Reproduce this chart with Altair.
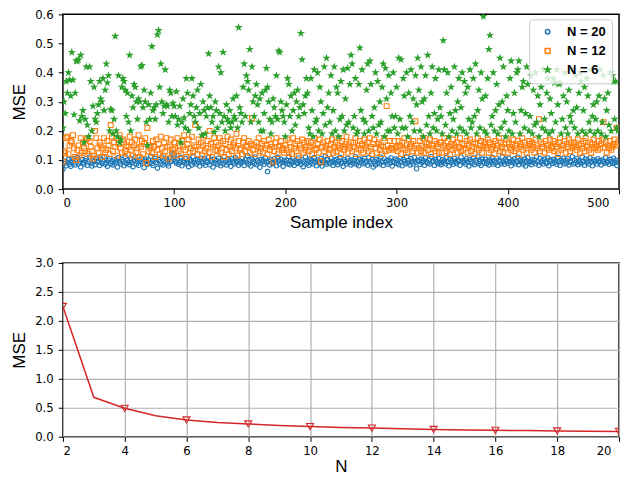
import altair as alt
import pandas as pd

# ---- top panel: per-sample MSE (values in thousandths) ----
mse_n20 = [
    68,88,95,80,92,101,85,78,96,104,90,83,99,108,87,94,76,102,91,86,
    97,105,82,93,110,88,79,100,95,84,107,92,98,81,103,89,96,112,85,91,
    78,99,106,87,94,83,101,90,97,76,108,93,86,102,95,80,111,88,99,92,
    84,104,91,77,98,109,86,95,82,100,93,107,89,74,103,96,85,99,90,113,
    88,81,97,105,92,72,101,94,86,110,83,98,91,104,87,79,106,95,100,122,
    118,96,89,103,85,92,108,80,98,91,105,87,94,77,102,96,83,111,90,99,
    86,101,93,79,107,95,88,104,82,97,91,109,84,100,94,76,103,89,98,85,
    106,92,80,99,87,112,95,83,101,90,97,78,104,93,86,108,91,99,82,96,
    89,105,94,81,100,92,115,86,98,79,103,95,88,110,84,97,91,75,102,93,
    99,85,107,92,60,96,83,101,90,88,104,94,80,109,97,86,102,91,78,98,
    93,100,87,112,84,96,90,105,81,98,92,89,107,95,85,101,77,94,110,88,
    97,82,103,91,99,86,108,93,80,100,95,88,104,79,97,90,113,85,102,92,
    87,106,94,81,99,90,102,84,96,109,88,93,78,101,95,86,105,91,98,83,
    100,89,97,111,85,94,80,103,92,99,87,106,90,96,82,108,94,88,101,76,
    95,83,102,90,98,86,110,93,81,104,92,97,85,100,89,107,79,96,91,103,
    88,99,84,106,93,80,101,95,87,112,90,98,83,104,94,86,109,92,70,99,
    96,85,103,91,98,82,107,94,89,100,86,111,93,97,81,102,95,88,105,90,
    84,101,92,97,87,109,94,80,103,91,98,85,106,93,88,100,96,82,110,95,
    91,98,86,104,93,79,102,95,89,107,84,99,92,113,87,96,81,103,94,90,
    103,88,96,83,100,92,108,86,97,90,105,81,99,94,87,111,93,85,102,96,
    89,106,93,80,98,91,104,87,95,110,84,100,92,97,86,103,79,96,108,90,
    95,84,101,92,99,87,112,94,82,105,91,98,86,103,93,89,107,80,100,96,
    88,102,91,97,85,109,94,81,100,93,106,87,98,90,104,83,96,92,111,86,
    99,90,105,84,97,92,88,110,95,82,103,91,98,86,107,94,80,101,93,97,
    86,104,92,98,83,100,95,89,108,91,97,85,102,94,88,106,90,99,81,93,
]
mse_n12 = [
    95,130,125,175,180,120,150,165,160,185,140,110,100,135,150,115,175,125,160,140,
    130,170,175,120,165,145,130,105,115,200,175,140,125,160,150,110,140,175,125,135,
    165,150,120,220,180,130,160,145,175,115,155,185,140,125,170,160,130,150,120,145,
    180,135,160,115,150,170,125,140,185,110,145,165,120,155,175,90,210,130,150,140,
    125,165,145,110,170,135,155,120,180,140,115,160,130,175,145,105,150,170,125,135,
    160,140,115,175,130,150,120,165,145,185,135,110,155,170,125,140,180,130,150,220,
    145,120,170,135,160,115,150,185,130,140,165,125,200,155,110,145,175,135,160,130,
    150,175,125,140,165,110,155,135,180,120,145,170,130,150,160,140,190,115,165,135,
    140,120,160,175,130,150,145,165,125,155,243,135,150,120,160,145,175,130,140,155,
    125,165,140,150,120,170,135,155,145,95,130,160,175,120,145,150,165,135,140,125,
    150,135,170,125,160,145,120,175,140,155,130,165,115,150,140,170,125,160,135,145,
    165,130,145,160,120,150,175,135,140,155,125,170,95,145,160,130,150,140,165,120,
    135,155,170,125,145,160,130,150,175,140,120,165,145,135,155,180,125,150,140,160,
    130,160,145,175,120,150,140,165,135,155,125,170,150,140,160,130,175,145,120,155,
    170,140,125,155,160,135,150,120,145,175,130,285,150,135,165,140,140,135,165,140,
    145,130,165,150,120,160,140,175,135,150,125,170,145,155,130,165,140,233,150,125,
    140,165,130,150,175,125,145,160,135,155,170,120,150,140,165,130,155,145,125,160,
    160,125,150,175,140,130,165,145,120,155,135,170,150,140,160,125,145,175,130,155,
    135,155,140,165,125,150,170,130,145,160,120,155,140,175,135,150,165,125,145,160,
    150,140,170,125,160,135,145,155,120,165,140,150,175,130,160,145,125,155,140,170,
    125,160,145,135,155,170,130,150,140,165,120,155,145,175,135,160,150,125,140,165,
    155,135,160,145,125,170,150,140,240,130,160,145,155,125,165,140,150,135,170,145,
    140,165,130,155,145,120,160,175,135,150,140,165,125,155,145,170,130,160,140,150,
    160,145,135,170,150,125,155,140,165,130,175,145,150,135,160,125,155,170,140,145,
    150,135,165,140,155,170,230,145,160,125,150,140,165,135,145,155,170,150,210,160,
]
mse_n6 = [
    210,300,260,370,330,400,375,320,470,375,255,330,440,440,445,235,460,250,270,160,
    240,420,220,180,420,370,200,285,350,240,230,260,290,370,310,300,380,270,340,430,
    365,390,200,275,270,190,240,525,200,180,390,160,170,350,380,370,340,250,330,230,
    460,200,320,280,360,350,300,240,310,300,420,425,280,340,300,230,150,290,240,330,
    490,270,280,240,290,530,545,350,430,300,260,285,410,290,285,230,340,330,250,295,
    285,250,335,220,240,285,160,230,310,245,210,380,330,200,260,290,380,320,250,230,
    280,340,210,260,360,185,300,270,190,250,280,465,320,280,230,250,195,300,270,210,
    420,260,400,230,470,250,200,290,240,230,270,210,230,310,250,240,320,210,555,280,
    260,230,350,430,250,390,370,340,480,230,420,300,250,320,360,290,230,310,200,330,
    200,260,340,415,350,300,240,190,230,310,280,250,390,240,475,470,300,270,250,230,
    180,290,380,360,250,320,200,270,330,220,300,340,250,280,535,445,290,260,320,380,
    330,210,190,380,270,180,410,230,240,400,200,350,300,190,260,420,220,450,280,330,
    230,390,190,270,420,200,350,330,180,240,370,250,410,200,310,220,415,230,360,460,
    430,210,250,380,190,200,360,485,270,410,240,190,230,340,430,200,440,360,250,210,
    280,400,190,370,220,300,230,350,430,180,415,310,200,390,200,330,250,400,210,250,
    350,190,450,240,445,210,380,320,210,400,180,330,250,410,230,310,200,390,290,450,
    340,200,420,300,180,310,390,220,460,250,190,330,420,210,260,380,200,240,410,280,
    250,190,510,410,220,330,400,180,260,350,200,240,420,270,190,300,380,210,280,400,
    200,370,330,190,350,240,410,210,230,380,250,430,190,270,340,210,400,310,593,200,
    320,190,380,480,528,220,250,400,200,270,360,190,290,450,210,300,420,230,180,320,
    270,200,380,440,190,260,330,230,400,410,440,190,270,350,370,210,260,420,360,200,
    250,390,190,340,220,400,230,320,180,290,350,210,410,240,200,330,380,190,310,260,
    200,380,365,230,410,290,360,365,190,240,320,400,210,300,190,340,250,230,410,270,
    210,390,280,190,330,400,370,200,270,350,190,380,320,230,200,410,250,290,190,240,
    300,200,320,410,190,230,390,310,180,270,330,220,400,200,390,370,240,370,210,200,
]
series_labels = ["N = 20", "N = 12", "N = 6"]

# ---- bottom panel: MSE versus N ----
n_values = list(range(2, 21))
mse_vs_n = [2.25, 0.68, 0.49, 0.36, 0.29, 0.245, 0.22, 0.195, 0.175, 0.16,
            0.15, 0.135, 0.125, 0.115, 0.11, 0.105, 0.10, 0.095, 0.09]

rows = []
for lab, vals in zip(series_labels, [mse_n20, mse_n12, mse_n6]):
    for i, v in enumerate(vals):
        rows.append({"idx": i, "mse": v / 1000.0, "series": lab})
top_df = pd.DataFrame(rows)
bot_df = pd.DataFrame({"N": n_values, "mse": mse_vs_n})

STAR = ("M0,-1L0.2245,-0.309L0.951,-0.309L0.363,0.118L0.588,0.809L0,0.382"
        "L-0.588,0.809L-0.363,0.118L-0.951,-0.309L-0.2245,-0.309Z")

legend = alt.Legend(
    title=None, orient="none", legendX=467, legendY=5,
    fillColor="rgba(255,255,255,0.8)", strokeColor="#cccccc", cornerRadius=3,
    padding=6, symbolOffset=6, labelFont="Liberation Sans", labelFontWeight="bold",
    labelFontSize=13, labelColor="black", symbolSize=36, symbolStrokeWidth=1.5,
    rowPadding=5, labelOffset=13,
)

top = alt.Chart(top_df).mark_point(strokeWidth=1.1, clip=True, opacity=1, filled=False).encode(
    x=alt.X("idx:Q", scale=alt.Scale(domain=[0, 500], nice=False),
            axis=alt.Axis(title="Sample index", values=[0, 100, 200, 300, 400, 500],
                          grid=False, titlePadding=5, labelPadding=4,
                          labelOffset={"condition": {"test": "datum.value == 500", "value": -10}, "value": 0})),
    y=alt.Y("mse:Q", scale=alt.Scale(domain=[0, 0.6], nice=False),
            axis=alt.Axis(title="MSE", values=[0, 0.1, 0.2, 0.3, 0.4, 0.5, 0.6],
                          grid=False, format=".1f", titlePadding=6)),
    color=alt.Color("series:N", scale=alt.Scale(domain=series_labels,
                    range=["#1f77b4", "#ff7f0e", "#2ca02c"]), legend=legend),
    shape=alt.Shape("series:N", scale=alt.Scale(domain=series_labels,
                    range=["circle", "square", STAR]), legend=legend),
    fill=alt.Fill("series:N", scale=alt.Scale(domain=series_labels,
                  range=["rgba(255,255,255,0)", "rgba(255,255,255,0)", "#2ca02c"]), legend=None),
    size=alt.Size("series:N", scale=alt.Scale(domain=series_labels,
                  range=[20, 27, 50]), legend=None),
).properties(width=557, height=175)

bx = alt.X("N:Q", scale=alt.Scale(domain=[2, 20], nice=False),
           axis=alt.Axis(title="N", values=list(range(2, 21, 2)), grid=True,
                         titlePadding=1, labelPadding=4,
                         labelOffset={"condition": {"test": "datum.value == 20", "value": -8}, "value": 0}))
by = alt.Y("mse:Q", scale=alt.Scale(domain=[0, 3.0], nice=False),
           axis=alt.Axis(title="MSE", values=[0, 0.5, 1.0, 1.5, 2.0, 2.5, 3.0],
                         format=".1f", grid=True, titlePadding=6))
line = alt.Chart(bot_df).mark_line(color="#d62728", strokeWidth=1.5, clip=True).encode(x=bx, y=by)
marks = alt.Chart(bot_df).transform_filter("datum.N % 2 == 0").mark_point(
    shape="triangle-down", filled=False, color="#d62728", size=50,
    strokeWidth=1.1, clip=True, opacity=1).encode(x=bx, y=by)
bottom = alt.layer(line, marks).properties(width=557, height=174)

chart = alt.vconcat(top, bottom, spacing=25).resolve_legend(
    color="independent", shape="independent", fill="independent", size="independent"
).resolve_scale(
    color="independent", shape="independent", fill="independent", size="independent"
).properties(
    padding={"left": 1, "top": 0, "right": 0, "bottom": 0}
).configure_view(stroke="black", strokeWidth=1.5).configure_axis(
    domain=False, grid=False, tickColor="black", tickSize=4.7, tickWidth=1,
    labelFont="DejaVu Sans", labelFontSize=11.7, labelColor="black", labelPadding=5,
    titleFont="Liberation Sans", titleFontSize=17, titleFontWeight="normal",
    titleColor="black", gridColor="#b0b0b0", gridWidth=1.2,
)

chart.save("out.html", embed_options={"renderer": "svg", "actions": False})
